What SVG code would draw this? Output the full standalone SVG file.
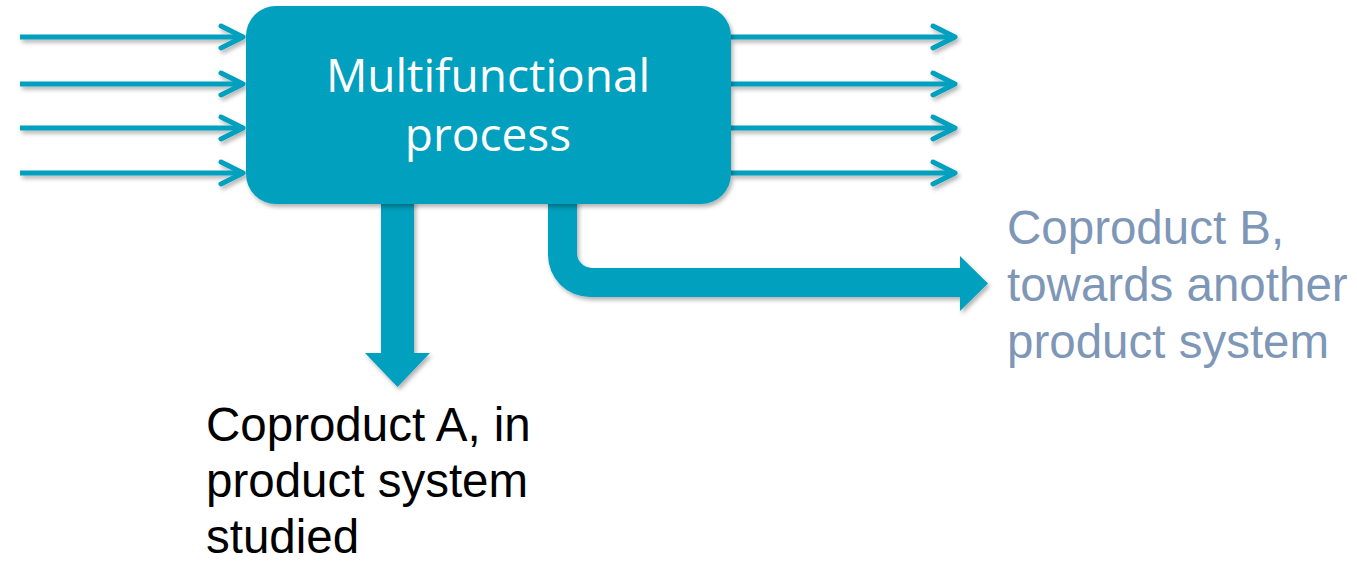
<svg xmlns="http://www.w3.org/2000/svg" width="1357" height="561" viewBox="0 0 1357 561">
  <defs>
    <filter id="sh" x="-20%" y="-20%" width="140%" height="160%">
      <feDropShadow dx="2" dy="3" stdDeviation="2" flood-color="#000" flood-opacity="0.3"/>
    </filter>
    <marker id="chev" viewBox="0 0 30 30" refX="27" refY="15" markerWidth="30" markerHeight="30" markerUnits="userSpaceOnUse" orient="auto">
      <polyline points="5,4 27,15 5,26" fill="none" stroke="#00A0BE" stroke-width="5" stroke-linecap="round" stroke-linejoin="round"/>
    </marker>
  </defs>
  <style>
    .flow { stroke: #00A0BE; stroke-width: 5; fill: none; marker-end: url(#chev); }
    .big { fill: #00A0BE; }
    .lbl { font-family: "Liberation Sans", Arial, sans-serif; font-size: 47.5px; }
    .box-t { font-family: "Open Sans", "Liberation Sans", sans-serif; font-size: 46px; fill: #FFFFFF; text-anchor: middle; }
  </style>
  <rect width="1357" height="561" fill="#FFFFFF"/>
  <g id="connectors" filter="url(#sh)">
    <line class="flow" x1="20" y1="37" x2="243" y2="37"/>
    <line class="flow" x1="20" y1="84" x2="243" y2="84"/>
    <line class="flow" x1="20" y1="128" x2="243" y2="128"/>
    <line class="flow" x1="20" y1="173" x2="243" y2="173"/>
    <line class="flow" x1="731" y1="37" x2="955" y2="37"/>
    <line class="flow" x1="731" y1="84" x2="955" y2="84"/>
    <line class="flow" x1="731" y1="128" x2="955" y2="128"/>
    <line class="flow" x1="731" y1="173" x2="955" y2="173"/>
    <path id="arrow-a" class="big" d="M381,200 L414,200 L414,353 L430,353 L397.5,387 L365,353 L381,353 Z"/>
    <path id="arrow-b" class="big" d="M548,200 L548,255 A42,42 0 0 0 590,297 L960,297 L960,311 L988,283.5 L960,256 L960,268 L592,268 A15,15 0 0 1 577,253 L577,200 Z"/>
  </g>
  <g id="process">
    <rect x="246" y="6" width="485" height="198" rx="30" ry="30" class="big" filter="url(#sh)"/>
    <text class="box-t" x="488" y="92">Multifunctional</text>
    <text class="box-t" x="488" y="151">process</text>
  </g>
  <g id="coproduct-a">
    <text class="lbl" fill="#000000" x="206" y="441">Coproduct A, in</text>
    <text class="lbl" fill="#000000" x="206" y="497">product system</text>
    <text class="lbl" fill="#000000" x="206" y="553">studied</text>
  </g>
  <g id="coproduct-b">
    <text class="lbl" fill="#7F97B7" x="1007" y="244">Coproduct B,</text>
    <text class="lbl" fill="#7F97B7" x="1007" y="301">towards another</text>
    <text class="lbl" fill="#7F97B7" x="1007" y="358">product system</text>
  </g>
</svg>
